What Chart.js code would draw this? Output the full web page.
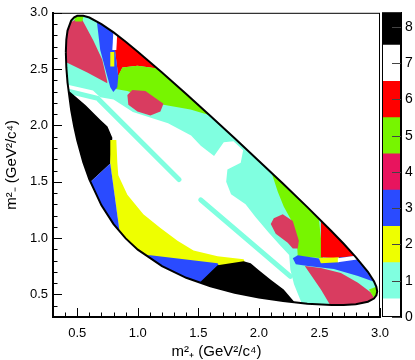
<!DOCTYPE html>
<html>
<head>
<meta charset="utf-8">
<script src="https://cdn.jsdelivr.net/npm/chart.js@4.4.1/dist/chart.umd.min.js"></script>
<style>
  html, body { margin: 0; padding: 0; background: #fff; }
  #wrap { position: relative; width: 415px; height: 360px; }
  #plot { position: absolute; left: 0; top: 0; }
  #bar { position: absolute; left: 370px; top: 0; }
</style>
</head>
<body>
<div id="wrap">
  <canvas id="plot" width="415" height="360"></canvas>
  <canvas id="bar" width="45" height="360"></canvas>
</div>
<script>
// Dalitz plot edge, [m2+, m2-] in GeV2/c4, going round the outline
var boundary = [
    [0.406, 2.651], [0.41, 2.763], [0.42, 2.842], [0.45, 2.931], [0.475, 2.960], [0.5, 2.973],
    [0.55, 2.974], [0.6, 2.958], [0.7, 2.900], [0.8, 2.826], [0.9, 2.743], [1.0, 2.655],
    [1.2, 2.471], [1.4, 2.280], [1.6, 2.084], [1.8, 1.886], [2.0, 1.685], [2.2, 1.482],
    [2.4, 1.275], [2.6, 1.061], [2.7, 0.950], [2.8, 0.832], [2.9, 0.701], [2.95, 0.617],
    [2.97, 0.568], [2.977, 0.526], [2.97, 0.492], [2.95, 0.464], [2.9, 0.436], [2.8, 0.414],
    [2.7, 0.407], [2.6, 0.407], [2.4, 0.418], [2.2, 0.441], [2.0, 0.473], [1.8, 0.516],
    [1.6, 0.573], [1.4, 0.648], [1.2, 0.751], [1.0, 0.898], [0.9, 0.998], [0.8, 1.124],
    [0.7, 1.291], [0.6, 1.521], [0.55, 1.674], [0.5, 1.869], [0.475, 1.990], [0.45, 2.137],
    [0.42, 2.381], [0.41, 2.515], [0.406, 2.651]
];

// bin regions
var whiteCore = [[0.32, 2.37], [0.43, 2.36], [0.63, 2.31], [0.69, 2.25], [0.80, 2.23], [0.96, 2.12], [1.25, 2.02], [1.44, 1.91], [1.52, 1.82], [1.63, 1.73], [1.71, 1.85], [1.79, 1.86], [1.87, 1.78], [1.85, 1.67], [1.74, 1.61], [1.73, 1.50], [1.77, 1.39], [1.89, 1.30], [1.97, 1.19], [2.08, 1.05], [2.18, 0.93], [2.25, 0.85], [2.26, 0.72], [2.29, 0.59], [2.35, 0.43], [2.39, 0.30], [2.0, 0.30], [1.0, 0.50], [0.5, 1.2], [0.30, 2.0]];
var stripeUpper = [[0.40, 2.31], [0.67, 2.24], [1.34, 1.52]];
var stripeLower = [[1.52, 1.34], [2.26, 0.66]];
var blackLeft = [[0.32, 2.33], [0.44, 2.30], [0.57, 2.18], [0.69, 2.05], [0.75, 1.99], [0.79, 1.89], [0.78, 1.76], [0.773, 1.663], [0.575, 1.464], [0.32, 1.52]];
var yellowArc = [[0.773, 1.872], [0.823, 1.872], [0.831, 1.672], [0.839, 1.559], [0.914, 1.385], [1.046, 1.212], [1.187, 1.090], [1.328, 0.977], [1.460, 0.891], [1.659, 0.839], [1.874, 0.813], [1.891, 0.769], [1.518, 0.587], [0.939, 0.804], [0.848, 1.073], [0.773, 1.655]];
var blueLeft = [[0.575, 1.464], [0.773, 1.663], [0.848, 1.073], [0.69, 0.977], [0.525, 1.411]];
var blueBottom = [[1.022, 0.847], [1.104, 0.847], [1.659, 0.778], [1.675, 0.743], [1.518, 0.604], [1.353, 0.457], [0.939, 0.717]];
var blackBottom = [[1.435, 0.526], [1.659, 0.760], [1.874, 0.795], [1.932, 0.778], [1.998, 0.717], [2.098, 0.630], [2.205, 0.543], [2.288, 0.439], [2.346, 0.283], [1.518, 0.283]];
var pinkTopLeft = [[0.318, 2.800], [0.401, 2.887], [0.483, 2.939], [0.541, 2.939], [0.632, 2.757], [0.707, 2.583], [0.748, 2.392], [0.748, 2.375], [0.583, 2.470], [0.417, 2.557], [0.318, 2.583]];
var greenTip = [[0.459, 3.02], [0.566, 3.02], [0.541, 2.922], [0.483, 2.922]];
var redTop = [[0.798, 2.887], [0.798, 2.800], [0.815, 2.644], [0.839, 2.436], [0.873, 2.514], [0.997, 2.531], [1.162, 2.505], [1.311, 2.488], [1.311, 2.887]];
var greenTop = [[0.831, 2.427], [0.873, 2.514], [0.997, 2.531], [1.162, 2.505], [1.518, 2.366], [1.725, 2.149], [1.601, 2.089], [1.435, 2.141], [1.212, 2.184], [1.104, 2.236], [0.914, 2.306], [0.815, 2.323]];
var pinkBlob = [[0.914, 2.271], [0.955, 2.314], [1.063, 2.306], [1.212, 2.193], [1.187, 2.123], [1.104, 2.089], [0.997, 2.123], [0.922, 2.184]];
var blueStreak = [[0.657, 2.974], [0.815, 2.974], [0.798, 2.800], [0.815, 2.644], [0.839, 2.436], [0.831, 2.340], [0.798, 2.297], [0.773, 2.340], [0.748, 2.436], [0.690, 2.670], [0.666, 2.887]];
var whiteSliver = [[0.798, 2.826], [0.831, 2.826], [0.823, 2.670], [0.790, 2.670]];
var yellowSliver = [[0.773, 2.653], [0.806, 2.653], [0.806, 2.523], [0.773, 2.523]];
var greenRight = [[2.056, 1.672], [2.098, 1.602], [2.156, 1.411], [2.205, 1.281], [2.280, 1.134], [2.313, 0.977], [2.321, 0.839], [2.528, 0.821], [2.512, 1.003], [2.495, 1.177], [2.470, 1.411], [2.180, 1.759]];
var pinkMid = [[2.123, 1.177], [2.197, 1.212], [2.280, 1.151], [2.330, 0.977], [2.321, 0.908], [2.280, 0.908], [2.238, 0.960], [2.139, 1.038], [2.098, 1.125]];
var redRight = [[2.470, 1.281], [2.512, 1.151], [2.512, 0.830], [2.652, 0.821], [2.818, 0.830], [2.884, 0.839], [2.967, 0.977], [2.594, 1.411]];
var blueRight = [[2.280, 0.821], [2.321, 0.847], [2.536, 0.813], [2.677, 0.830], [2.868, 0.847], [3.008, 0.786], [3.008, 0.587], [2.950, 0.613], [2.818, 0.665], [2.619, 0.726], [2.404, 0.752], [2.305, 0.769]];
var yellowRight = [[2.495, 0.821], [2.661, 0.830], [2.661, 0.786], [2.512, 0.778]];
var whiteStreak = [[2.652, 0.821], [2.826, 0.847], [2.826, 0.813], [2.652, 0.786]];
var pinkLow = [[2.379, 0.752], [2.512, 0.734], [2.677, 0.691], [2.818, 0.604], [2.925, 0.517], [2.959, 0.457], [3.008, 0.370], [2.619, 0.326], [2.594, 0.396], [2.512, 0.543]];
var greenTipRight = [[2.909, 0.543], [2.975, 0.570], [3.025, 0.500], [2.959, 0.457]];

// colour scale: bin edges and tick labels
var binEdges = [0, 0.5, 1.5, 2.5, 3.5, 4.5, 5.5, 6.5, 7.5, 8.4];
var binTicks = [0, 1, 2, 3, 4, 5, 6, 7, 8];

var FONT = "'Liberation Sans', Arial, Helvetica, sans-serif";
var CYAN = '#80ffe0', YELLOW = '#eeff00', BLUE = '#2a4bff', PINK = '#d93c60',
    GREEN = '#77f500', RED = '#ff0000', BLACK = '#000000', WHITE = '#ffffff';
var binColors = [WHITE, CYAN, YELLOW, BLUE, '#e8145e', GREEN, RED, WHITE, BLACK];

function pts(arr) {
    return arr.map(function (p) { return { x: p[0], y: p[1] }; });
}

function area(arr, color) {
    return {
        data: pts(arr), fill: 'shape', backgroundColor: color,
        borderWidth: 0, borderColor: 'rgba(0,0,0,0)', pointRadius: 0, tension: 0
    };
}

function stripe(arr, color) {
    return {
        data: pts(arr), fill: false, borderColor: color, borderWidth: 5,
        borderCapStyle: 'round', borderJoinStyle: 'round', pointRadius: 0, tension: 0
    };
}

var datasets = [
    area(boundary, CYAN),
    area(whiteCore, WHITE),
    stripe(stripeUpper, CYAN),
    stripe(stripeLower, CYAN),
    area(blackLeft, BLACK),
    area(yellowArc, YELLOW),
    area(blueLeft, BLUE),
    area(blueBottom, BLUE),
    area(blackBottom, BLACK),
    area(pinkTopLeft, PINK),
    area(greenTip, GREEN),
    area(redTop, RED),
    area(greenTop, GREEN),
    area(pinkBlob, PINK),
    area(blueStreak, BLUE),
    area(whiteSliver, WHITE),
    area(yellowSliver, YELLOW),
    area(greenRight, GREEN),
    area(pinkMid, PINK),
    area(redRight, RED),
    area(blueRight, BLUE),
    area(yellowRight, YELLOW),
    area(whiteStreak, WHITE),
    area(pinkLow, PINK),
    area(greenTipRight, GREEN),
    {
        data: pts(boundary), fill: false, borderColor: BLACK, borderWidth: 2,
        pointRadius: 0, tension: 0
    }
];
// first dataset drawn first, outline on top
datasets.forEach(function (d, i) { d.order = -i; });

// keep the bins inside the kinematic edge
var clipToEdge = {
    id: 'clipToEdge',
    beforeDatasetsDraw: function (chart) {
        var ctx = chart.ctx;
        var edge = chart.getDatasetMeta(0).data;
        ctx.save();
        ctx.beginPath();
        edge.forEach(function (p, i) {
            if (i === 0) ctx.moveTo(p.x, p.y); else ctx.lineTo(p.x, p.y);
        });
        ctx.closePath();
        ctx.clip();
        chart.$edgeClip = true;
    },
    beforeDatasetDraw: function (chart, args) {
        if (args.index === chart.data.datasets.length - 1 && chart.$edgeClip) {
            chart.ctx.restore();
            chart.$edgeClip = false;
        }
    },
    afterDatasetsDraw: function (chart) {
        if (chart.$edgeClip) {
            chart.ctx.restore();
            chart.$edgeClip = false;
        }
    }
};

function isMajor(v) {
    return Math.round(v * 10) % 5 === 0;
}

// ticks pointing into the frame, like the original
var innerTicks = {
    id: 'innerTicks',
    afterDraw: function (chart) {
        var ctx = chart.ctx, a = chart.chartArea;
        var xs = chart.scales.x, ys = chart.scales.y;
        ctx.save();
        ctx.strokeStyle = '#000';
        ctx.lineWidth = 1;
        ctx.beginPath();
        xs.ticks.forEach(function (t) {
            var px = Math.round(xs.getPixelForValue(t.value)) + 0.5;
            ctx.moveTo(px, a.bottom);
            ctx.lineTo(px, a.bottom - (isMajor(t.value) ? 9 : 4.5));
        });
        ys.ticks.forEach(function (t) {
            var py = Math.round(ys.getPixelForValue(t.value)) + 0.5;
            ctx.moveTo(a.left, py);
            ctx.lineTo(a.left + (isMajor(t.value) ? 9 : 4.5), py);
        });
        ctx.stroke();
        ctx.strokeRect(a.left + 0.5, a.top + 0.5, a.right - a.left - 1, a.bottom - a.top - 1);
        ctx.restore();
    }
};

function tickLabel(v) {
    var k = Math.round(v * 10);
    return k % 5 === 0 ? (k / 10).toFixed(1) : '';
}

new Chart(document.getElementById('plot'), {
    type: 'line',
    data: { datasets: datasets },
    options: {
        responsive: false,
        animation: false,
        events: [],
        layout: { padding: { top: 7, right: 35, left: 0, bottom: 0 } },
        plugins: { legend: { display: false }, tooltip: { enabled: false } },
        scales: {
            x: {
                type: 'linear', min: 0.3, max: 3.0,
                afterFit: function (s) { s.height = 43; },
                ticks: {
                    stepSize: 0.1, autoSkip: false, maxRotation: 0, padding: 9,
                    color: '#000', font: { family: FONT, size: 13 }, callback: tickLabel
                },
                grid: { drawOnChartArea: false, drawTicks: false },
                border: { color: '#000', width: 2 },
                title: {
                    display: true, text: 'm\u00B2\u208A (GeV\u00B2/c\u2074)', color: '#000',
                    font: { family: FONT, size: 15 }, padding: { top: 0, bottom: -1 }
                }
            },
            y: {
                type: 'linear', min: 0.3, max: 3.0,
                afterFit: function (s) { s.width = 53; },
                ticks: {
                    stepSize: 0.1, autoSkip: false, padding: 5,
                    color: '#000', font: { family: FONT, size: 13 }, callback: tickLabel
                },
                grid: { drawOnChartArea: false, drawTicks: false },
                border: { color: '#000', width: 2 },
                title: {
                    display: true, text: 'm\u00B2\u208B (GeV\u00B2/c\u2074)', color: '#000',
                    font: { family: FONT, size: 15 }, padding: { top: 3, bottom: 0 }
                }
            }
        }
    },
    plugins: [clipToEdge, innerTicks]
});

// colour scale on the right
var barFrame = {
    id: 'barFrame',
    afterDraw: function (chart) {
        var ctx = chart.ctx, a = chart.chartArea, ys = chart.scales.y;
        ctx.save();
        ctx.strokeStyle = '#000';
        ctx.lineWidth = 1;
        ctx.strokeRect(a.left + 0.5, a.top + 0.5, a.right - a.left - 1, a.bottom - a.top - 1);
        ctx.strokeStyle = '#444';
        ctx.beginPath();
        ys.ticks.forEach(function (t) {
            var py = Math.round(ys.getPixelForValue(t.value)) + 0.5;
            ctx.moveTo(a.right, py);
            ctx.lineTo(a.right - 9, py);
        });
        ctx.stroke();
        ctx.restore();
    }
};

var bands = binColors.map(function (c, i) {
    return {
        data: [[binEdges[i], binEdges[i + 1]]], backgroundColor: c, borderWidth: 0,
        barPercentage: 1, categoryPercentage: 1, grouped: false
    };
});

new Chart(document.getElementById('bar'), {
    type: 'bar',
    data: { labels: ['z'], datasets: bands },
    options: {
        responsive: false,
        animation: false,
        events: [],
        layout: { padding: { top: 7, left: 12, right: 0, bottom: 43 } },
        plugins: { legend: { display: false }, tooltip: { enabled: false } },
        scales: {
            x: { display: false },
            y: {
                position: 'right', min: 0, max: binEdges[binEdges.length - 1],
                afterFit: function (s) { s.width = 14; },
                ticks: {
                    stepSize: 1, includeBounds: false, padding: 4, color: '#000',
                    font: { family: FONT, size: 14 },
                    callback: function (v) { return binTicks.indexOf(v) >= 0 ? String(v) : ''; }
                },
                grid: { drawOnChartArea: false, drawTicks: false },
                border: { color: '#000', width: 1 }
            }
        }
    },
    plugins: [barFrame]
});
</script>
</body>
</html>
